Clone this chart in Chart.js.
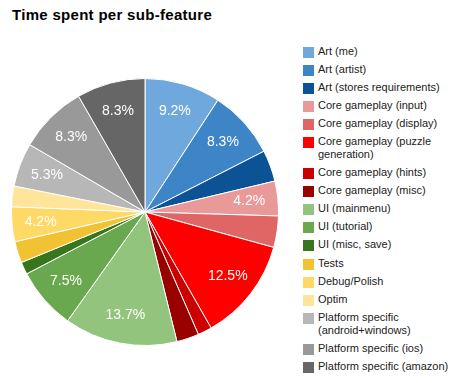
<!DOCTYPE html>
<html>
<head>
<meta charset="utf-8">
<script src="https://cdn.jsdelivr.net/npm/chart.js@4"></script>
<style>
  html, body {
    margin: 0;
    padding: 0;
    background: #fff;
  }
  #wrap {
    position: relative;
    width: 457px;
    height: 383px;
    overflow: hidden;
    font-family: 'Liberation Sans', Arial, sans-serif;
  }
  #title {
    position: absolute;
    left: 12px;
    top: 6px;
    font-size: 15px;
    font-weight: bold;
    letter-spacing: 0.3px;
    color: #000;
    white-space: nowrap;
  }
  #pie-box {
    position: absolute;
    left: 0;
    top: 67px;
    width: 290px;
    height: 290px;
  }
  #legend {
    position: absolute;
    left: 303px;
    top: 44.5px;
    width: 154px;
    margin: 0;
    padding: 0;
    list-style: none;
  }
  #legend li {
    display: flex;
    align-items: flex-start;
    margin-bottom: 5.1px;
    font-size: 11px;
    line-height: 13px;
    color: #222;
  }
  #legend .sw {
    flex: none;
    width: 11px;
    height: 11px;
    margin-top: 2px;
    margin-right: 4px;
  }
  #legend .tx {
    width: 137px;
  }
</style>
</head>
<body>
<div id="wrap">
  <div id="title">Time spent per sub-feature</div>
  <div id="pie-box"><canvas id="pie" width="290" height="290"></canvas></div>
  <ul id="legend"></ul>
</div>
<script>
// sub-features, in drawing order (clockwise from 12 o'clock)
var features = [
  'Art (me)',
  'Art (artist)',
  'Art (stores requirements)',
  'Core gameplay (input)',
  'Core gameplay (display)',
  'Core gameplay (puzzle generation)',
  'Core gameplay (hints)',
  'Core gameplay (misc)',
  'UI (mainmenu)',
  'UI (tutorial)',
  'UI (misc, save)',
  'Tests',
  'Debug/Polish',
  'Optim',
  'Platform specific (android+windows)',
  'Platform specific (ios)',
  'Platform specific (amazon)'
];

// time share per sub-feature
var timeSpent = [9.2, 8.3, 3.8, 4.2, 3.8, 12.5, 1.7, 2.7, 13.7, 7.5, 1.5, 2.6, 4.2, 2.5, 5.3, 8.3, 8.3];

var sliceColors = [
  '#6fa8dc', '#3d85c6', '#0b5394',
  '#ea9999', '#e06666', '#ff0000', '#cc0000', '#990000',
  '#93c47d', '#6aa84f', '#38761d',
  '#f1c232', '#ffd966', '#ffe599',
  '#b7b7b7', '#999999', '#666666'
];

(function () {
  var FONT = "'Liberation Sans', Arial, sans-serif";

  function total(values) {
    var s = 0;
    values.forEach(function (v) { s += v; });
    return s;
  }

  // slices too thin for the text get no label, like the original
  var sliceText = {
    id: 'sliceText',
    afterDatasetsDraw: function (chart) {
      var ctx = chart.ctx;
      var meta = chart.getDatasetMeta(0);
      var data = chart.data.datasets[0].data;
      var sum = total(data);
      ctx.save();
      ctx.fillStyle = '#fff';
      ctx.font = '14px ' + FONT;
      ctx.textAlign = 'center';
      ctx.textBaseline = 'middle';
      meta.data.forEach(function (arc, i) {
        var pct = data[i] / sum * 100;
        if (pct < 4) return;
        var mid = (arc.startAngle + arc.endAngle) / 2;
        var r = arc.outerRadius * 0.785;
        ctx.fillText(pct.toFixed(1) + '%', arc.x + Math.cos(mid) * r, arc.y + Math.sin(mid) * r);
      });
      ctx.restore();
    }
  };

  function buildLegend() {
    var ul = document.getElementById('legend');
    features.forEach(function (name, i) {
      var li = document.createElement('li');
      var sw = document.createElement('span');
      sw.className = 'sw';
      sw.style.background = sliceColors[i];
      var tx = document.createElement('span');
      tx.className = 'tx';
      tx.textContent = name;
      li.appendChild(sw);
      li.appendChild(tx);
      ul.appendChild(li);
    });
  }

  function buildChart() {
    var canvas = document.getElementById('pie');
    new Chart(canvas.getContext('2d'), {
      type: 'pie',
      data: {
        labels: features,
        datasets: [
          {
            data: timeSpent,
            backgroundColor: sliceColors,
            borderColor: '#fff',
            borderWidth: 1
          }
        ]
      },
      options: {
        responsive: false,
        animation: false,
        layout: { padding: 11 },
        plugins: {
          legend: { display: false },
          tooltip: { enabled: false }
        }
      },
      plugins: [sliceText]
    });
  }

  buildLegend();
  buildChart();
})();
</script>
</body>
</html>
